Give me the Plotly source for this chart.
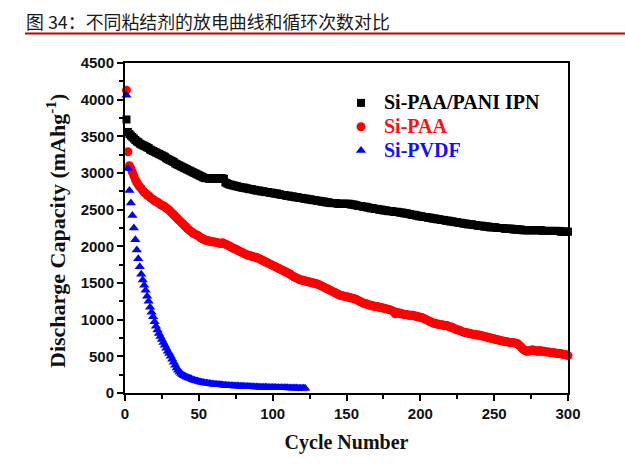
import plotly.graph_objects as go

# ---------------- data ----------------
cycles_ipn = list(range(1, 301))
cap_ipn = [
    3730, 3560, 3530, 3510, 3490, 3470, 3450, 3430, 3420, 3400,
    3390, 3380, 3370, 3360, 3350, 3340, 3320, 3310, 3300, 3290,
    3280, 3270, 3260, 3250, 3240, 3230, 3220, 3200, 3190, 3180,
    3170, 3160, 3150, 3130, 3120, 3110, 3100, 3090, 3080, 3070,
    3060, 3050, 3040, 3030, 3020, 3010, 3000, 2990, 2980, 2970,
    2960, 2950, 2940, 2930, 2930, 2930, 2920, 2930, 2930, 2920,
    2930, 2920, 2930, 2920, 2930, 2930, 2920, 2870, 2860, 2850,
    2840, 2840, 2830, 2830, 2820, 2820, 2810, 2810, 2800, 2800,
    2800, 2790, 2790, 2780, 2780, 2780, 2770, 2770, 2760, 2760,
    2760, 2750, 2750, 2750, 2740, 2740, 2740, 2730, 2730, 2730,
    2720, 2720, 2720, 2710, 2710, 2700, 2700, 2700, 2690, 2690,
    2690, 2680, 2680, 2680, 2670, 2670, 2670, 2660, 2660, 2660,
    2650, 2650, 2650, 2640, 2640, 2640, 2630, 2630, 2630, 2620,
    2620, 2620, 2610, 2610, 2610, 2600, 2600, 2600, 2590, 2590,
    2590, 2590, 2590, 2580, 2580, 2580, 2580, 2580, 2580, 2580,
    2580, 2580, 2570, 2570, 2570, 2560, 2560, 2550, 2550, 2550,
    2540, 2540, 2540, 2530, 2530, 2520, 2520, 2520, 2510, 2510,
    2510, 2500, 2500, 2500, 2490, 2490, 2490, 2480, 2480, 2480,
    2480, 2470, 2470, 2470, 2470, 2460, 2460, 2460, 2450, 2450,
    2450, 2440, 2440, 2430, 2430, 2430, 2420, 2420, 2410, 2410,
    2410, 2400, 2400, 2400, 2390, 2390, 2390, 2380, 2380, 2380,
    2370, 2370, 2370, 2360, 2360, 2360, 2350, 2350, 2350, 2340,
    2340, 2340, 2330, 2330, 2330, 2320, 2320, 2320, 2310, 2310,
    2310, 2300, 2300, 2300, 2300, 2290, 2290, 2290, 2280, 2280,
    2280, 2280, 2270, 2270, 2270, 2270, 2260, 2260, 2260, 2260,
    2260, 2250, 2250, 2250, 2250, 2250, 2240, 2240, 2240, 2240,
    2240, 2240, 2230, 2230, 2230, 2230, 2230, 2230, 2220, 2220,
    2220, 2220, 2220, 2220, 2220, 2220, 2220, 2220, 2220, 2220,
    2220, 2220, 2210, 2210, 2210, 2210, 2210, 2210, 2210, 2210,
    2210, 2210, 2210, 2210, 2200, 2200, 2200, 2200, 2200, 2200,
]

cycles_paa = list(range(1, 301))
cap_paa = [
    4130, 3290, 3100, 3060, 3010, 2960, 2910, 2870, 2840, 2810,
    2790, 2760, 2740, 2720, 2700, 2690, 2670, 2650, 2640, 2620,
    2610, 2600, 2590, 2570, 2560, 2550, 2540, 2520, 2510, 2490,
    2470, 2450, 2430, 2410, 2390, 2370, 2350, 2330, 2310, 2290,
    2270, 2250, 2230, 2210, 2200, 2180, 2170, 2160, 2150, 2140,
    2120, 2110, 2100, 2090, 2080, 2080, 2070, 2070, 2060, 2060,
    2060, 2050, 2050, 2040, 2040, 2050, 2040, 2030, 2020, 2010,
    2000, 1990, 1975, 1970, 1960, 1950, 1940, 1930, 1920, 1910,
    1900, 1890, 1880, 1880, 1870, 1860, 1860, 1850, 1850, 1840,
    1830, 1820, 1810, 1800, 1790, 1780, 1770, 1760, 1750, 1740,
    1730, 1720, 1710, 1700, 1690, 1680, 1670, 1660, 1650, 1640,
    1630, 1620, 1600, 1590, 1580, 1570, 1560, 1550, 1540, 1540,
    1530, 1530, 1520, 1520, 1510, 1510, 1500, 1500, 1490, 1490,
    1480, 1470, 1460, 1450, 1440, 1430, 1420, 1410, 1400, 1390,
    1380, 1370, 1360, 1350, 1340, 1330, 1330, 1320, 1320, 1310,
    1310, 1300, 1300, 1290, 1290, 1280, 1270, 1260, 1250, 1240,
    1230, 1220, 1220, 1210, 1200, 1200, 1190, 1190, 1180, 1180,
    1180, 1170, 1170, 1160, 1160, 1150, 1150, 1140, 1140, 1130,
    1120, 1110, 1080, 1100, 1090, 1090, 1080, 1080, 1070, 1070,
    1070, 1060, 1060, 1060, 1060, 1050, 1050, 1040, 1040, 1030,
    1030, 1020, 1010, 1000, 990, 980, 970, 960, 950, 950,
    940, 940, 930, 930, 930, 920, 920, 920, 910, 900,
    900, 890, 880, 870, 860, 860, 850, 840, 830, 830,
    820, 820, 810, 810, 800, 800, 800, 790, 790, 790,
    780, 780, 770, 770, 760, 760, 750, 750, 740, 740,
    730, 730, 720, 720, 710, 710, 700, 700, 700, 690,
    690, 690, 690, 680, 680, 670, 650, 630, 610, 590,
    580, 570, 570, 580, 580, 590, 580, 580, 570, 570,
    580, 570, 570, 570, 560, 560, 560, 550, 550, 550,
    550, 540, 540, 540, 540, 530, 530, 520, 520, 510,
]

cycles_pvdf = list(range(1, 123))
cap_pvdf = [
    4060, 3060, 2760, 2590, 2420, 2250, 2090, 1950, 1830, 1720,
    1620, 1540, 1470, 1400, 1320, 1250, 1170, 1100, 1040, 970,
    910, 860, 810, 770, 730, 690, 650, 610, 570, 540,
    500, 460, 420, 380, 340, 310, 285, 265, 250, 235,
    225, 215, 205, 200, 190, 182, 175, 168, 162, 156,
    150, 146, 142, 138, 135, 132, 129, 126, 123, 121,
    119, 117, 115, 113, 111, 109, 107, 105, 103, 101,
    100, 99, 98, 97, 96, 95, 94, 93, 92, 91,
    90, 89, 88, 87, 86, 85, 84, 83, 82, 81,
    80, 79, 78, 78, 77, 77, 76, 76, 75, 75,
    74, 74, 73, 73, 72, 72, 71, 71, 70, 70,
    69, 69, 68, 68, 67, 67, 66, 66, 65, 65,
    64, 64,
]

series_names = ["Si-PAA/PANI IPN", "Si-PAA", "Si-PVDF"]
x_tick_vals = [0, 50, 100, 150, 200, 250, 300]
y_tick_vals = [0, 500, 1000, 1500, 2000, 2500, 3000, 3500, 4000, 4500]

title_text = "图 34：不同粘结剂的放电曲线和循环次数对比"
x_title = "Cycle Number"
y_title = "Discharge Capacity (mAhg<sup>-1</sup>)"

# ---------------- figure ----------------
W, H = 625, 468
ML, MR, MT, MB = 125, 57, 63, 75
PW, PH = W - ML - MR, H - MT - MB

def px_x(px):
    return (px - ML) / PW

def px_y(py):
    return (H - MB - py) / PH

colors = ["#000000", "#ff0000", "#0000ff"]
text_colors = ["#000000", "#ff1010", "#1010ff"]
symbols = ["square", "circle", "triangle-up"]
sizes = [8, 9, 9]

fig = go.Figure()
for xs, ys, name, c, tc, sym, sz in zip(
    [cycles_ipn, cycles_paa, cycles_pvdf],
    [cap_ipn, cap_paa, cap_pvdf],
    series_names, colors, text_colors, symbols, sizes,
):
    fig.add_trace(go.Scatter(
        x=xs, y=ys, mode="markers",
        name=f"<span style='color:{tc};font-size:20px'>{name}</span>",
        marker=dict(symbol=sym, size=sz, color=c, line=dict(width=0)),
        cliponaxis=False,
    ))

tick_font = dict(family="Arial, Liberation Sans, sans-serif", size=15, color="#111111", weight="bold")
serif = "Times New Roman, Liberation Serif, serif"

axis_common = dict(
    showgrid=False, zeroline=False,
    showline=True, linecolor="#000000", linewidth=2, mirror=True,
    ticks="outside", ticklen=6, tickwidth=2, tickcolor="#000000",
    tickfont=tick_font,
)

fig.update_layout(
    width=W, height=H,
    margin=dict(l=ML, r=MR, t=MT, b=MB, pad=0),
    paper_bgcolor="#ffffff", plot_bgcolor="#ffffff",
    showlegend=True,
    legend=dict(
        x=px_x(338), y=px_y(86), xanchor="left", yanchor="top",
        bgcolor="rgba(0,0,0,0)", borderwidth=0,
        font=dict(family=serif, size=16, color="#000000", weight="bold"),
        tracegroupgap=0, itemwidth=36,
    ),
    xaxis=dict(
        range=[0, 300], tickmode="array", tickvals=x_tick_vals,
        minor=dict(dtick=25, tick0=0, ticks="outside", ticklen=4, tickwidth=2, tickcolor="#000000"),
        title=dict(text=x_title, font=dict(family=serif, size=20, color="#111111", weight="bold"), standoff=14),
        **axis_common,
    ),
    yaxis=dict(
        range=[0, 4500], tickmode="array", tickvals=y_tick_vals,
        minor=dict(dtick=250, tick0=0, ticks="outside", ticklen=4, tickwidth=2, tickcolor="#000000"),
        **axis_common,
    ),
    annotations=[
        dict(text=title_text, xref="paper", yref="paper", x=px_x(24), y=px_y(21),
             xanchor="left", yanchor="middle", showarrow=False,
             font=dict(family="Noto Sans CJK SC", size=17.9, color="#1a1a1a")),
        dict(text=y_title, xref="paper", yref="paper", x=px_x(56), y=px_y(231),
             xanchor="center", yanchor="middle", showarrow=False, textangle=-90,
             font=dict(family=serif, size=22, color="#111111", weight="bold")),
    ],
    shapes=[
        dict(type="line", xref="paper", yref="paper", x0=px_x(25), x1=px_x(625),
             y0=px_y(33.5), y1=px_y(33.5), line=dict(color="#c00000", width=2)),
    ],
)

fig.write_html("out.html", post_script="document.body.style.margin='0px';",
               config={"displayModeBar": False})
